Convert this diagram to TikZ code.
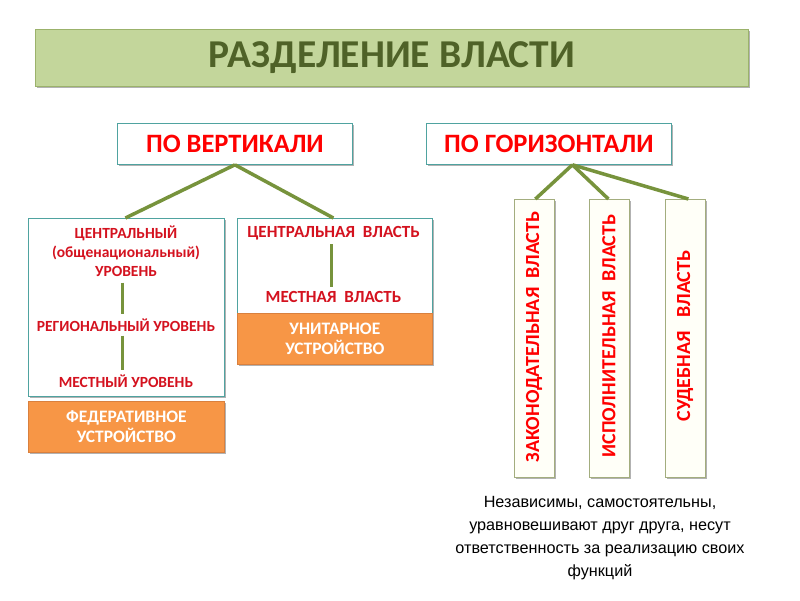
\documentclass[tikz,border=0pt]{standalone}
\usepackage{fontspec}
\setmainfont{Carlito}
\newfontfamily\arialf{Liberation Sans}
\usetikzlibrary{shadows}
\definecolor{ttlfill}{HTML}{C3D69B}
\definecolor{ttlline}{HTML}{9BB26B}
\definecolor{ttltext}{HTML}{4F6228}
\definecolor{tealline}{HTML}{4FA3A0}
\definecolor{linkc}{HTML}{77933C}
\definecolor{orfill}{HTML}{F79646}
\definecolor{orline}{HTML}{D9803E}
\definecolor{redtxt}{HTML}{FF0000}
\definecolor{darkred}{HTML}{D4121F}
\definecolor{vline}{HTML}{A3AD7E}
\definecolor{vfill}{HTML}{FFFFF8}
\tikzset{
  shad/.style={drop shadow={shadow xshift=2pt,shadow yshift=-2pt,opacity=0.3,fill=black}},
  boxbase/.style={shape=rectangle,inner sep=0pt,anchor=north west,shad},
  titlebox/.style={boxbase,fill=ttlfill,draw=ttlline,line width=0.8pt,text=ttltext,font=\bfseries\fontsize{39.5}{44}\selectfont},
  headbox/.style={boxbase,fill=white,draw=tealline,line width=0.8pt,text=redtxt,font=\bfseries\fontsize{26.5}{30}\selectfont},
  levelbox/.style={boxbase,fill=white,draw=tealline,line width=0.8pt},
  orbox/.style={boxbase,fill=orfill,draw=orline,line width=0.8pt,text=white,align=center,font=\bfseries\fontsize{17.5}{20}\selectfont},
  vbox/.style={boxbase,fill=vfill,draw=vline,line width=0.8pt},
  lvltext/.style={text=darkred,align=center,inner sep=0pt,font=\bfseries\fontsize{15.5}{19}\selectfont},
  rtext/.style={lvltext,font=\bfseries\fontsize{17}{19}\selectfont},
  vtext/.style={text=redtxt,rotate=90,inner sep=0pt,font=\bfseries\fontsize{20}{22}\selectfont},
  link/.style={draw=linkc,line width=3.5pt},
  ilink/.style={draw=linkc,line width=3pt},
  note/.style={align=center,inner sep=0pt,font=\arialf\fontsize{16.2}{23}\selectfont}
}
\begin{document}
\begin{tikzpicture}[x=1pt,y=-1pt]
\useasboundingbox (0,0) rectangle (800,600);
\fill[white] (0,0) rectangle (800,600);

% title
\node[titlebox,minimum width=713pt,minimum height=57pt] (title) at (35,29) {РАЗДЕЛЕНИЕ ВЛАСТИ};

% headings
\node[headbox,minimum width=235pt,minimum height=41pt] (vert) at (117,123) {ПО ВЕРТИКАЛИ};
\node[headbox,minimum width=245pt,minimum height=41pt] (hor) at (426,123) {ПО ГОРИЗОНТАЛИ};

% left (federal) block
\node[levelbox,minimum width=196pt,minimum height=178pt] (lbox) at (28,218) {};
\node[orbox,minimum width=196pt,minimum height=51pt] (fed) at (28,401) {ФЕДЕРАТИВНОЕ\\УСТРОЙСТВО};
\node[lvltext] (l1) at (126,251) {ЦЕНТРАЛЬНЫЙ\\(общенациональный)\\УРОВЕНЬ};
\node[lvltext] (l2) at (126,325) {РЕГИОНАЛЬНЫЙ УРОВЕНЬ};
\node[lvltext] (l3) at (126,381) {МЕСТНЫЙ УРОВЕНЬ};

% right (unitary) block
\node[levelbox,minimum width=195pt,minimum height=95pt] (rbox) at (237,218) {};
\node[orbox,minimum width=195pt,minimum height=51pt] (uni) at (237,313) {УНИТАРНОЕ\\УСТРОЙСТВО};
\node[rtext] (r1) at (333.5,233) {ЦЕНТРАЛЬНАЯ\ \ ВЛАСТЬ};
\node[rtext] (r2) at (333.5,297) {МЕСТНАЯ\ \ ВЛАСТЬ};

% vertical branch boxes
\node[vbox,minimum width=40pt,minimum height=278pt] (v1) at (514,199) {};
\node[vbox,minimum width=40pt,minimum height=278pt] (v2) at (589,199) {};
\node[vbox,minimum width=40pt,minimum height=278pt] (v3) at (665,199) {};
\node[vtext] (t1) at (534,337) {ЗАКОНОДАТЕЛЬНАЯ\ \ ВЛАСТЬ};
\node[vtext] (t2) at (609,336) {ИСПОЛНИТЕЛЬНАЯ\ \ ВЛАСТЬ};
\node[vtext] (t3) at (685,336) {СУДЕБНАЯ\ \ \ ВЛАСТЬ};

% note
\node[note] (nt) at (600,538) {Независимы, самостоятельны,\\уравновешивают друг друга, несут\\ответственность за реализацию своих\\функций};

% connectors
\coordinate (vapex) at (vert.south);
\coordinate (hapex) at ([xshift=23.5pt]hor.south);
\draw[link] (vapex) -- ([xshift=-1pt]lbox.north);
\draw[link] (vapex) -- ([xshift=-1.5pt]rbox.north);
\draw[link] (hapex) -- ([xshift=1pt]v1.north);
\draw[link] (hapex) -- ([xshift=-1pt]v2.north);
\draw[link] (hapex) -- ([xshift=3pt]v3.north);
\draw[ilink,shorten <=6pt,shorten >=4pt] ([xshift=-4pt]l1.south) -- ([xshift=-4pt]l1.south |- l2.north);
\draw[ilink,shorten <=4pt,shorten >=4pt] ([xshift=-4pt]l1.south |- l2.south) -- ([xshift=-4pt]l1.south |- l3.north);
\draw[ilink,shorten <=4pt,shorten >=4pt] ([xshift=-2.5pt]r1.south) -- ([xshift=-2.5pt]r1.south |- r2.north);
\end{tikzpicture}
\end{document}
